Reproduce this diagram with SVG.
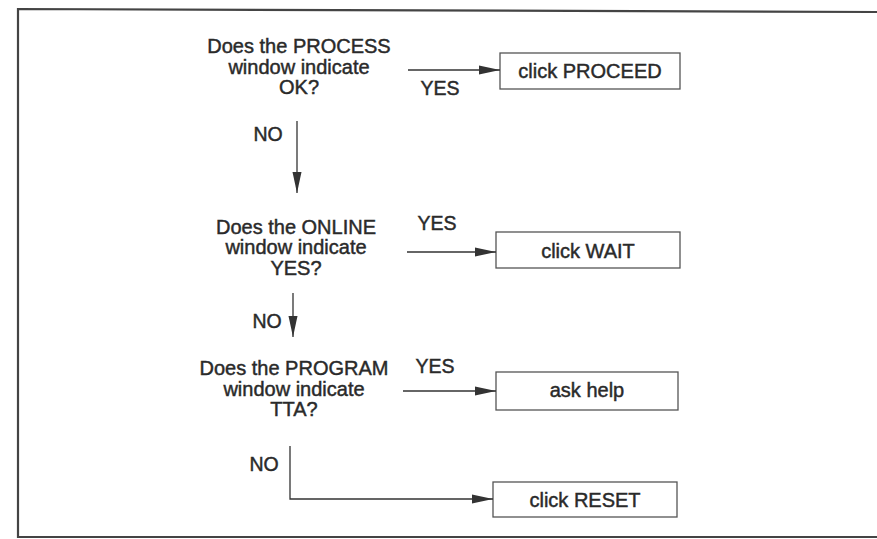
<svg xmlns="http://www.w3.org/2000/svg" width="877" height="539" viewBox="0 0 877 539">
  <defs>
    <marker id="arrow" markerWidth="21" markerHeight="10" refX="21" refY="5" orient="auto" markerUnits="userSpaceOnUse">
      <path d="M0,0.5 L21,5 L0,9.5 Z" fill="#333"/>
    </marker>
    <style>
      .q, .lbl, .box text { font-family: "Liberation Sans", Arial, sans-serif; fill: #2a2a2a; stroke: #2a2a2a; stroke-width: 0.45; text-anchor: middle; }
      .q { font-size: 20px; }
      .lbl { font-size: 19.5px; }
      .box rect { fill: #fff; stroke: #555; stroke-width: 1.3; }
      .box text { font-size: 20px; }
      .edge { fill: none; stroke: #333; stroke-width: 1.3; marker-end: url(#arrow); }
    </style>
  </defs>

  <rect width="877" height="539" fill="#fff"/>
  <!-- page frame -->
  <path d="M877,12 L18,9 L18,537 L877,537" fill="none" stroke="#444" stroke-width="2.2"/>

  <!-- decisions -->
  <g id="q-process">
    <text class="q" x="299" y="53">Does the PROCESS</text>
    <text class="q" x="299" y="73.5">window indicate</text>
    <text class="q" x="299" y="94">OK?</text>
  </g>
  <g id="q-online">
    <text class="q" x="296" y="233.5">Does the ONLINE</text>
    <text class="q" x="296" y="254">window indicate</text>
    <text class="q" x="296" y="274.5">YES?</text>
  </g>
  <g id="q-program">
    <text class="q" x="294" y="375">Does the PROGRAM</text>
    <text class="q" x="294" y="395.5">window indicate</text>
    <text class="q" x="294" y="416">TTA?</text>
  </g>

  <!-- actions -->
  <g id="a-proceed" class="box">
    <rect x="500" y="53" width="180" height="36"/>
    <text x="590" y="77.5">click PROCEED</text>
  </g>
  <g id="a-wait" class="box">
    <rect x="496" y="232" width="184" height="36"/>
    <text x="588" y="257.5">click WAIT</text>
  </g>
  <g id="a-help" class="box">
    <rect x="496" y="372" width="182" height="38"/>
    <text x="587" y="397">ask help</text>
  </g>
  <g id="a-reset" class="box">
    <rect x="493" y="482" width="184" height="35"/>
    <text x="585" y="506.5">click RESET</text>
  </g>

  <!-- connectors -->
  <g id="connectors">
    <path class="edge" d="M408,70 L500,70"/>
    <path class="edge" d="M407,252 L496,252"/>
    <path class="edge" d="M403,391 L496,391"/>
    <path class="edge" d="M297,121 L297,193"/>
    <path class="edge" d="M293,293 L293,337"/>
    <path class="edge" d="M290,446 L290,499 L493,499"/>
  </g>

  <!-- branch labels -->
  <g id="labels">
    <text class="lbl" x="440" y="95">YES</text>
    <text class="lbl" x="437" y="230">YES</text>
    <text class="lbl" x="435" y="373">YES</text>
    <text class="lbl" x="268" y="141">NO</text>
    <text class="lbl" x="267" y="328">NO</text>
    <text class="lbl" x="264" y="471">NO</text>
  </g>
</svg>
